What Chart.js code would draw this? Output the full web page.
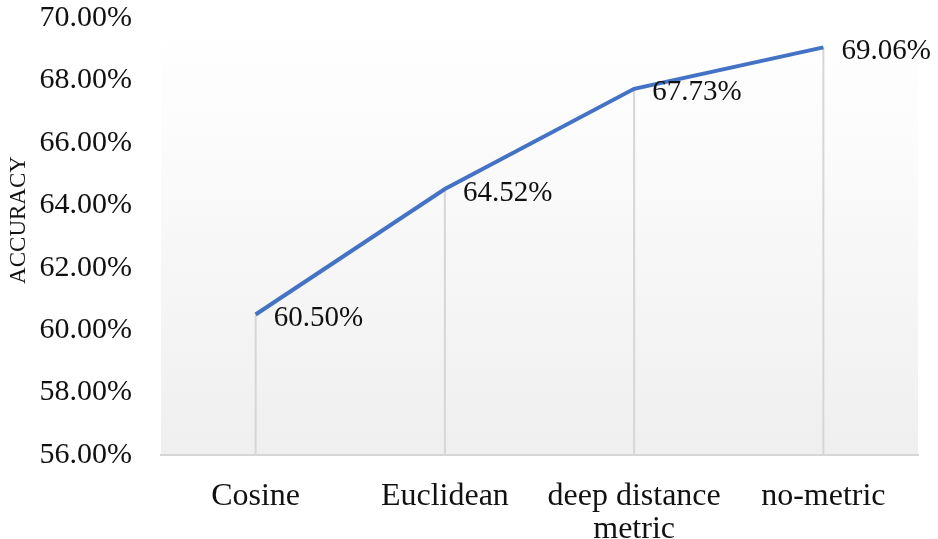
<!DOCTYPE html>
<html>
<head>
<meta charset="utf-8">
<style>
  html, body { margin: 0; padding: 0; background: #fff; }
  #wrap { width: 938px; height: 539px; }
</style>
<script src="https://cdn.jsdelivr.net/npm/chart.js@4"></script>
</head>
<body>
<div id="wrap"><canvas id="accChart"></canvas></div>
<script>
const categories = ["Cosine", "Euclidean", ["deep distance", "metric"], "no-metric"];
const accuracy = [0.6050, 0.6452, 0.6773, 0.6906];
const yTicks = [0.56, 0.58, 0.60, 0.62, 0.64, 0.66, 0.68, 0.70];
const yTitle = "ACCURACY";

const serif = "'Liberation Serif', 'Times New Roman', serif";

// soft grey wash behind the plot, fading to white toward the top
const plotBackground = {
  id: "plotBackground",
  beforeDraw(chart) {
    const { ctx, chartArea: a } = chart;
    const g = ctx.createLinearGradient(0, a.top, 0, a.bottom);
    g.addColorStop(0, "rgba(255,255,255,1)");
    g.addColorStop(0.3, "#fbfbfb");
    g.addColorStop(1, "#efefef");
    ctx.save();
    ctx.fillStyle = g;
    ctx.fillRect(a.left, a.top, a.right - a.left, a.bottom - a.top);
    ctx.restore();
  }
};

// vertical drop lines from each point down to the category axis
const dropLines = {
  id: "dropLines",
  beforeDatasetsDraw(chart) {
    const { ctx, chartArea: a } = chart;
    const meta = chart.getDatasetMeta(0);
    ctx.save();
    ctx.strokeStyle = "#d6d6d6";
    ctx.lineWidth = 2;
    meta.data.forEach(pt => {
      ctx.beginPath();
      ctx.moveTo(pt.x, pt.y);
      ctx.lineTo(pt.x, a.bottom);
      ctx.stroke();
    });
    ctx.restore();
  }
};

// value labels to the right of each point, plus the rotated axis title
const valueLabels = {
  id: "valueLabels",
  afterDatasetsDraw(chart) {
    const { ctx } = chart;
    const meta = chart.getDatasetMeta(0);
    ctx.save();
    ctx.font = "29px " + serif;
    ctx.fillStyle = "#111";
    ctx.textAlign = "left";
    ctx.textBaseline = "middle";
    meta.data.forEach((pt, i) => {
      ctx.fillText((accuracy[i] * 100).toFixed(2) + "%", pt.x + 18, pt.y + 4);
    });

    ctx.translate(19, 220);
    ctx.rotate(-Math.PI / 2);
    ctx.font = "23px " + serif;
    ctx.textAlign = "center";
    ctx.fillText(yTitle, 0, 0);
    ctx.restore();
  }
};

new Chart(document.getElementById("accChart"), {
  type: "line",
  data: {
    labels: categories,
    datasets: [{
      data: accuracy,
      borderColor: "#4472C4",
      borderWidth: 4,
      pointRadius: 0,
      fill: false,
      tension: 0
    }]
  },
  options: {
    responsive: true,
    maintainAspectRatio: false,
    animation: false,
    layout: { padding: { top: 18, right: 20, bottom: 0, left: 0 } },
    plugins: { legend: { display: false }, tooltip: { enabled: false } },
    scales: {
      x: {
        offset: true,
        afterFit: scale => { scale.height = 84; },
        grid: { display: false, drawTicks: false },
        border: { display: true, color: "#d6d6d6", width: 2 },
        ticks: {
          color: "#111",
          padding: 25,
          maxRotation: 0,
          autoSkip: false,
          font: { family: serif, size: 32, lineHeight: 1.03 }
        }
      },
      y: {
        min: 0.56,
        max: 0.70,
        afterBuildTicks: scale => { scale.ticks = yTicks.map(v => ({ value: v })); },
        afterFit: scale => {
          scale.width = 161;
          scale.paddingTop = 0;
          scale.paddingBottom = 0;
        },
        grid: { display: false, drawTicks: false },
        border: { display: false },
        ticks: {
          color: "#111",
          padding: 29,
          font: { family: serif, size: 30 },
          callback: v => (v * 100).toFixed(2) + "%"
        }
      }
    }
  },
  plugins: [plotBackground, dropLines, valueLabels]
});
</script>
</body>
</html>
